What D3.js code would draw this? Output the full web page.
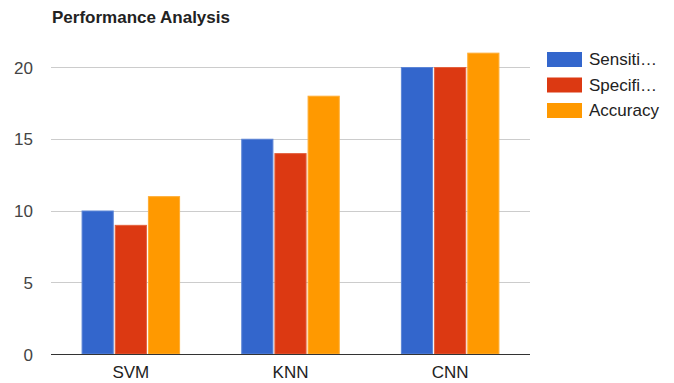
<!DOCTYPE html>
<html>
<head>
<meta charset="utf-8">
<script src="https://cdn.jsdelivr.net/npm/d3@7"></script>
<style>
  html, body { margin: 0; padding: 0; background: #fff; }
  svg { display: block; font-family: "Liberation Sans", Arial, sans-serif; }
</style>
</head>
<body>
<svg id="chart" width="674" height="383"></svg>
<script>
// Chart data
const categories = ["SVM", "KNN", "CNN"];
const seriesNames = ["Sensitivity", "Specificity", "Accuracy"];
const legendLabels = ["Sensiti\u2026", "Specifi\u2026", "Accuracy"];
const sensitivity = [10, 15, 20];
const specificity = [9, 14, 20];
const accuracy = [11, 18, 21];
const yTicks = [0, 5, 10, 15, 20];
const colors = ["#3366cc", "#dc3912", "#ff9900"];
const strokes = ["#5c85d6", "#e3613e", "#ffad33"];

const series = [sensitivity, specificity, accuracy];

const svg = d3.select("#chart");
const plot = { left: 51, right: 530, top: 38, bottom: 354 };

const x = d3.scaleBand().domain(categories).range([plot.left, plot.right]).paddingInner(0.383).paddingOuter(0.1915);
const xs = d3.scaleBand().domain(seriesNames).range([0, x.bandwidth()]).paddingInner(0.03);
const y = d3.scaleLinear().domain([0, 20]).range([plot.bottom, 67]);

// Title
svg.append("text")
  .attr("x", 52).attr("y", 23)
  .attr("font-size", 17).attr("font-weight", "bold").attr("fill", "#222")
  .text("Performance Analysis");

// Gridlines
svg.append("g").selectAll("line")
  .data(yTicks.filter(d => d !== 0))
  .join("line")
  .attr("x1", plot.left).attr("x2", plot.right)
  .attr("y1", d => Math.round(y(d)) + 0.5).attr("y2", d => Math.round(y(d)) + 0.5)
  .attr("stroke", "#cccccc").attr("stroke-width", 1);

// Y axis labels
const yAxis = d3.axisLeft(y).tickValues(yTicks).tickSize(0).tickPadding(0);
const yg = svg.append("g").attr("transform", `translate(33,0)`).call(yAxis);
yg.select(".domain").remove();
yg.selectAll("text").attr("font-size", 17).attr("fill", "#444").attr("font-family", "Liberation Sans, Arial, sans-serif").attr("dy", "0.36em");

// Bars
const groups = svg.append("g").selectAll("g")
  .data(categories)
  .join("g")
  .attr("transform", d => `translate(${x(d)},0)`);

groups.selectAll("rect")
  .data((c, i) => series.map((s, k) => ({ name: seriesNames[k], value: s[i], k })))
  .join("rect")
  .attr("x", d => xs(d.name) + 0.5)
  .attr("width", xs.bandwidth() - 1)
  .attr("y", d => y(d.value) + 0.5)
  .attr("height", d => y(0) - y(d.value) - 0.5)
  .attr("fill", d => colors[d.k])
  .attr("stroke", d => strokes[d.k])
  .attr("stroke-width", 1);

// Baseline
svg.append("line")
  .attr("x1", plot.left).attr("x2", plot.right)
  .attr("y1", y(0) + 0.5).attr("y2", y(0) + 0.5)
  .attr("stroke", "#333").attr("stroke-width", 1);

// X axis labels
const xAxis = d3.axisBottom(x).tickSize(0).tickPadding(0);
const xg = svg.append("g").attr("transform", `translate(0,${plot.bottom})`).call(xAxis);
xg.select(".domain").remove();
xg.selectAll("text").attr("font-size", 17).attr("fill", "#222").attr("font-family", "Liberation Sans, Arial, sans-serif").attr("dy", "0").attr("y", 24);

// Legend
const legend = svg.append("g").selectAll("g")
  .data(seriesNames)
  .join("g")
  .attr("transform", (d, i) => `translate(547,${52 + i * 25.5})`);
legend.append("rect")
  .attr("width", 35).attr("height", 15)
  .attr("fill", (d, i) => colors[i]);
legend.append("text")
  .attr("x", 42).attr("y", 13)
  .attr("font-size", 17).attr("fill", "#222")
  .text((d, i) => legendLabels[i]);
</script>
</body>
</html>
